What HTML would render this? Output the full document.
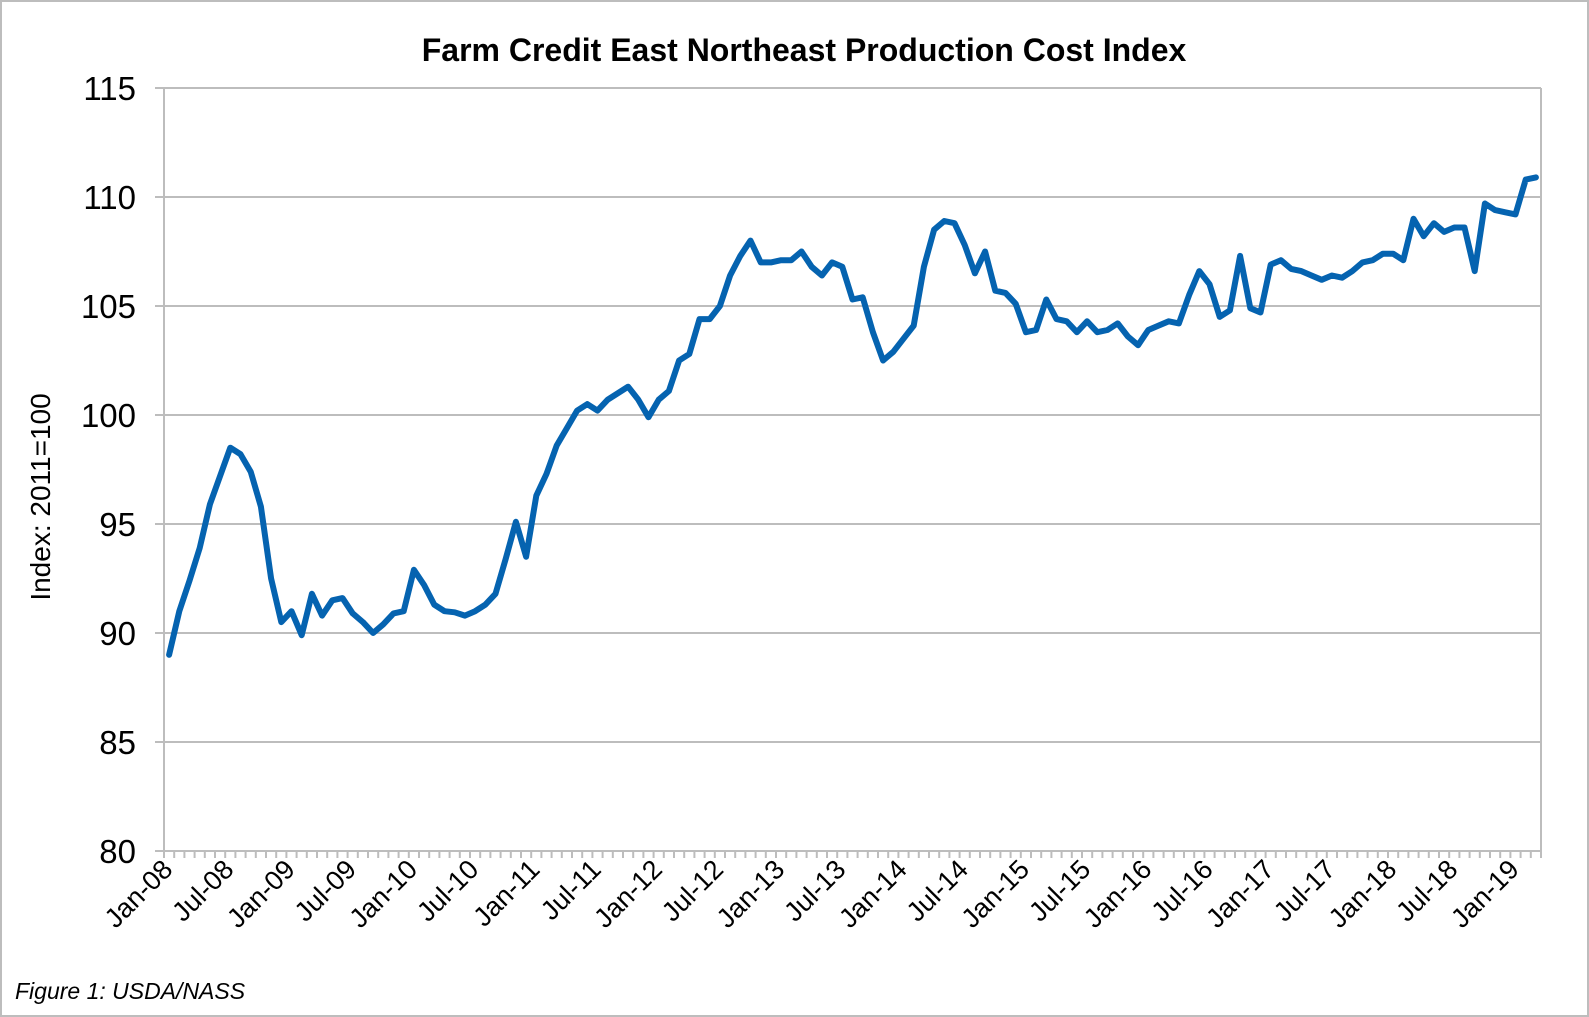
<!DOCTYPE html>
<html><head><meta charset="utf-8"><style>
html,body{margin:0;padding:0;background:#fff}
svg{display:block;font-family:"Liberation Sans",Arial,sans-serif}
</style></head><body>
<svg id="chart" width="1589" height="1017" viewBox="0 0 1589 1017">
<rect x="1" y="1" width="1587" height="1015" fill="#fff" stroke="#bdbdbd" stroke-width="2"/>
<text x="804" y="61" text-anchor="middle" font-size="32" font-weight="bold" fill="#000">Farm Credit East Northeast Production Cost Index</text>
<text transform="translate(50,497) rotate(-90)" text-anchor="middle" font-size="28" fill="#000">Index: 2011=100</text>
<text x="15" y="999" font-size="23" font-style="italic" fill="#000">Figure 1: USDA/NASS</text>
<g id="grid"></g><g id="axes"></g><g id="series"></g>
</svg>
<script>
const values=[89.0,91.0,92.4,93.9,95.9,97.2,98.5,98.2,97.4,95.8,92.5,90.5,91.0,89.9,91.8,90.8,91.5,91.6,90.9,90.5,90.0,90.4,90.9,91.0,92.9,92.2,91.3,91.0,90.95,90.8,91.0,91.3,91.8,93.4,95.1,93.5,96.3,97.3,98.6,99.4,100.2,100.5,100.2,100.7,101.0,101.3,100.7,99.9,100.7,101.1,102.5,102.8,104.4,104.4,105.0,106.4,107.3,108.0,107.0,107.0,107.1,107.1,107.5,106.8,106.4,107.0,106.8,105.3,105.4,103.8,102.5,102.9,103.5,104.1,106.8,108.5,108.9,108.8,107.8,106.5,107.5,105.7,105.6,105.1,103.8,103.9,105.3,104.4,104.3,103.8,104.3,103.8,103.9,104.2,103.6,103.2,103.9,104.1,104.3,104.2,105.5,106.6,106.0,104.5,104.8,107.3,104.9,104.7,106.9,107.1,106.7,106.6,106.4,106.2,106.4,106.3,106.6,107.0,107.1,107.4,107.4,107.1,109.0,108.2,108.8,108.4,108.6,108.6,106.6,109.7,109.4,109.3,109.2,110.8,110.9];
const monthNames=["Jan","Jul"];
const yTicks=[80,85,90,95,100,105,110,115];
const startYear=8;
const L=164,R=1541,T=88,B=851,yMin=80,yMax=115;
const n=values.length, step=(R-L)/n;
const xPos=i=>L+(i+0.5)*step;
const yPos=v=>B-(v-yMin)/(yMax-yMin)*(B-T);
const NS="http://www.w3.org/2000/svg";
const grid=document.getElementById('grid'),axes=document.getElementById('axes'),series=document.getElementById('series');
function mk(tag,attrs,parent){const e=document.createElementNS(NS,tag);for(const k in attrs)e.setAttribute(k,attrs[k]);parent.appendChild(e);return e;}
yTicks.forEach(t=>{
  const y=yPos(t);
  const g=mk('line',{x1:L-9,x2:R,y1:y,y2:y,stroke:'#bdbdbd','stroke-width':2},grid);
  
  
  const tx=mk('text',{x:L-28,y:y+12,'text-anchor':'end','font-size':33,fill:'#000'},axes);
  tx.textContent=t;
  
  
});
const ya=mk('line',{x1:L,x2:L,y1:T,y2:B,stroke:'#bdbdbd','stroke-width':2},axes);


const ra=mk('line',{x1:R,x2:R,y1:T,y2:B,stroke:'#bdbdbd','stroke-width':2},axes);


for(let i=0;i<=n;i++){
  const x=L+i*step;
  const tk=mk('line',{x1:x,x2:x,y1:B,y2:B+7,stroke:'#bdbdbd','stroke-width':2},axes);
  
  
}
for(let i=0;i<n;i+=6){
  const yr=startYear+Math.floor(i/12);
  const lab=monthNames[(i%12)/6]+'-'+String(yr).padStart(2,'0');
  const x=xPos(i)+5,y=B+20;
  const tx=mk('text',{x:x,y:y,'text-anchor':'end','font-size':27,fill:'#000',transform:`rotate(-45 ${x} ${y})`},axes);
  tx.textContent=lab;
  
  
}
const pts=values.map((v,i)=>xPos(i).toFixed(1)+','+yPos(v).toFixed(1)).join(' ');
const pl=mk('polyline',{points:pts,fill:'none',stroke:'#0563b0','stroke-width':6,'stroke-linejoin':'round','stroke-linecap':'round'},series);


</script>
</body></html>
